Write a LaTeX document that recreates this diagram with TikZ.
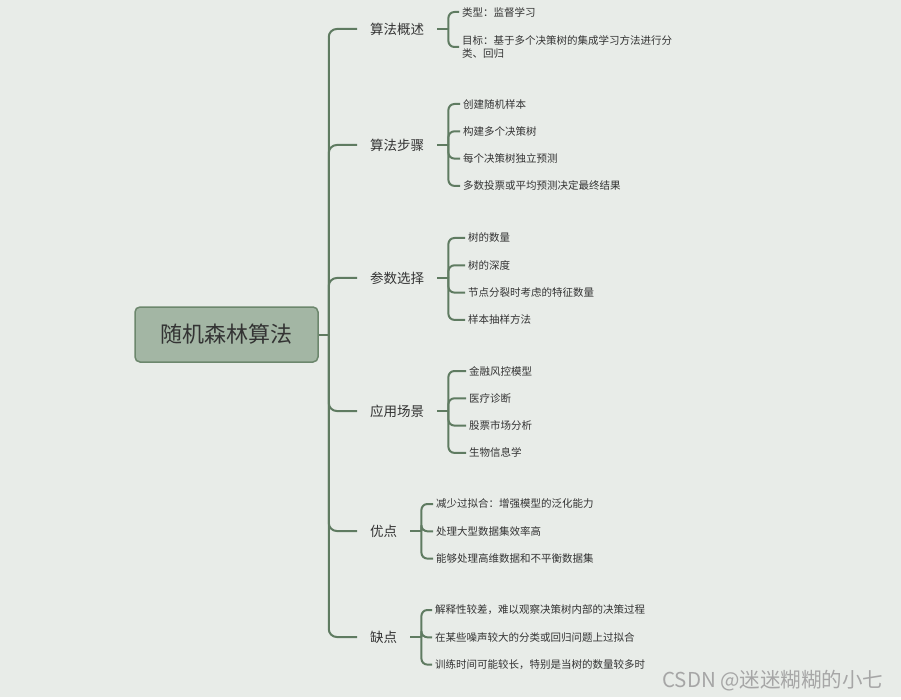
\documentclass[tikz,border=0pt]{standalone}
\usepackage{fontspec}
\setmainfont{Noto Sans CJK SC}
\usepackage{xcolor}
\usepackage{tikz}
\usetikzlibrary{positioning}

\definecolor{sfondo}{HTML}{E8ECE8}
\definecolor{radice}{HTML}{A3B6A4}
\definecolor{bordo}{HTML}{6C876D}
\definecolor{linea}{HTML}{5F7B61}
\definecolor{testo}{HTML}{333333}

\begin{document}
\begin{tikzpicture}[x=1pt, y=-1pt, node distance=27.3pt, on grid]
    % Stili
    \tikzstyle{main}=[rectangle, rounded corners=5pt, minimum width=183pt, minimum height=55pt, draw=bordo, line width=1.5pt, fill=radice, text=testo, font=\fontsize{22}{26}\selectfont]
    \tikzstyle{topic}=[anchor=west, inner xsep=13pt, text=testo, font=\fontsize{13.5}{16}\selectfont]
    \tikzstyle{leaf}=[anchor=west, inner xsep=3pt, inner ysep=1pt, text=testo, font=\fontsize{10.5}{13}\selectfont]
    \tikzstyle{link}=[draw=linea, line width=2pt, rounded corners=6pt]

    % Sfondo
    \fill[white] (0,0) rectangle (901,700);
    \fill[sfondo] (0,0) rectangle (901,697);

    % Nodo centrale
    \node (root) at (226.5,334.5) [main] {随机森林算法};

    % Rami principali
    \node (overview) at (357,29) [topic] {算法概述};
    \node (steps) at (357,145) [topic] {算法步骤};
    \node (params) at (357,278) [topic] {参数选择};
    \node (uses) at (357,411) [topic] {应用场景};
    \node (pros) at (357,531) [topic] {优点};
    \node (cons) at (357,637) [topic] {缺点};

    % Foglie
    \node (type) at (459,12) [leaf] {类型：监督学习};
    \node (goal) at (459,47) [leaf, align=left] {目标：基于多个决策树的集成学习方法进行分\\类、回归};

    \node (sample) at (460,104) [leaf] {创建随机样本};
    \node (build) [below=of sample.west, leaf] {构建多个决策树};
    \node (predict) [below=of build.west, leaf] {每个决策树独立预测};
    \node (vote) [below=of predict.west, leaf] {多数投票或平均预测决定最终结果};

    \node (ntrees) at (465,238) [leaf] {树的数量};
    \node (depth) [below=of ntrees.west, leaf] {树的深度};
    \node (features) [below=of depth.west, leaf] {节点分裂时考虑的特征数量};
    \node (sampling) [below=of features.west, leaf] {样本抽样方法};

    \node (finance) at (466,371) [leaf] {金融风控模型};
    \node (medical) [below=of finance.west, leaf] {医疗诊断};
    \node (stock) [below=of medical.west, leaf] {股票市场分析};
    \node (bio) [below=of stock.west, leaf] {生物信息学};

    \node (overfit) at (433,504) [leaf] {减少过拟合：增强模型的泛化能力};
    \node (bigdata) [below=of overfit.west, leaf] {处理大型数据集效率高};
    \node (highdim) [below=of bigdata.west, leaf] {能够处理高维数据和不平衡数据集};

    \node (explain) at (432,610) [leaf] {解释性较差，难以观察决策树内部的决策过程};
    \node (noise) [below=of explain.west, leaf] {在某些噪声较大的分类或回归问题上过拟合};
    \node (slow) [below=of noise.west, leaf] {训练时间可能较长，特别是当树的数量较多时};

    % Firma
    \node (mark) at (887,681) [anchor=east, text=black!35, font=\fontsize{20.5}{24}\selectfont] {CSDN @迷迷糊糊的小七};

    % Punti di diramazione
    \coordinate (root-hub) at ([xshift=10pt]root.east);
    \coordinate (overview-hub) at ([xshift=11pt]overview.east);
    \coordinate (steps-hub) at ([xshift=11pt]steps.east);
    \coordinate (params-hub) at ([xshift=11pt]params.east);
    \coordinate (uses-hub) at ([xshift=11pt]uses.east);
    \coordinate (pros-hub) at ([xshift=11pt]pros.east);
    \coordinate (cons-hub) at ([xshift=11pt]cons.east);

    % Collegamenti
    \draw [link] (root.east) -- (root-hub);
    \draw [link, rounded corners=8pt] (root-hub) |- (overview.west);
    \draw [link, rounded corners=8pt] (root-hub) |- (steps.west);
    \draw [link, rounded corners=8pt] (root-hub) |- (params.west);
    \draw [link, rounded corners=8pt] (root-hub) |- (uses.west);
    \draw [link, rounded corners=8pt] (root-hub) |- (pros.west);
    \draw [link, rounded corners=8pt] (root-hub) |- (cons.west);

    \draw [link] (overview.east) -- (overview-hub);
    \draw [link] (overview-hub) |- (type.west);
    \draw [link] (overview-hub) |- (goal.west);

    \draw [link] (steps.east) -- (steps-hub);
    \draw [link] (steps-hub) |- (sample.west);
    \draw [link] (steps-hub) |- (build.west);
    \draw [link] (steps-hub) |- (predict.west);
    \draw [link] (steps-hub) |- (vote.west);

    \draw [link] (params.east) -- (params-hub);
    \draw [link] (params-hub) |- (ntrees.west);
    \draw [link] (params-hub) |- (depth.west);
    \draw [link] (params-hub) |- (features.west);
    \draw [link] (params-hub) |- (sampling.west);

    \draw [link] (uses.east) -- (uses-hub);
    \draw [link] (uses-hub) |- (finance.west);
    \draw [link] (uses-hub) |- (medical.west);
    \draw [link] (uses-hub) |- (stock.west);
    \draw [link] (uses-hub) |- (bio.west);

    \draw [link] (pros.east) -- (pros-hub);
    \draw [link] (pros-hub) |- (overfit.west);
    \draw [link] (pros-hub) |- (bigdata.west);
    \draw [link] (pros-hub) |- (highdim.west);

    \draw [link] (cons.east) -- (cons-hub);
    \draw [link] (cons-hub) |- (explain.west);
    \draw [link] (cons-hub) |- (noise.west);
    \draw [link] (cons-hub) |- (slow.west);

\end{tikzpicture}
\end{document}
